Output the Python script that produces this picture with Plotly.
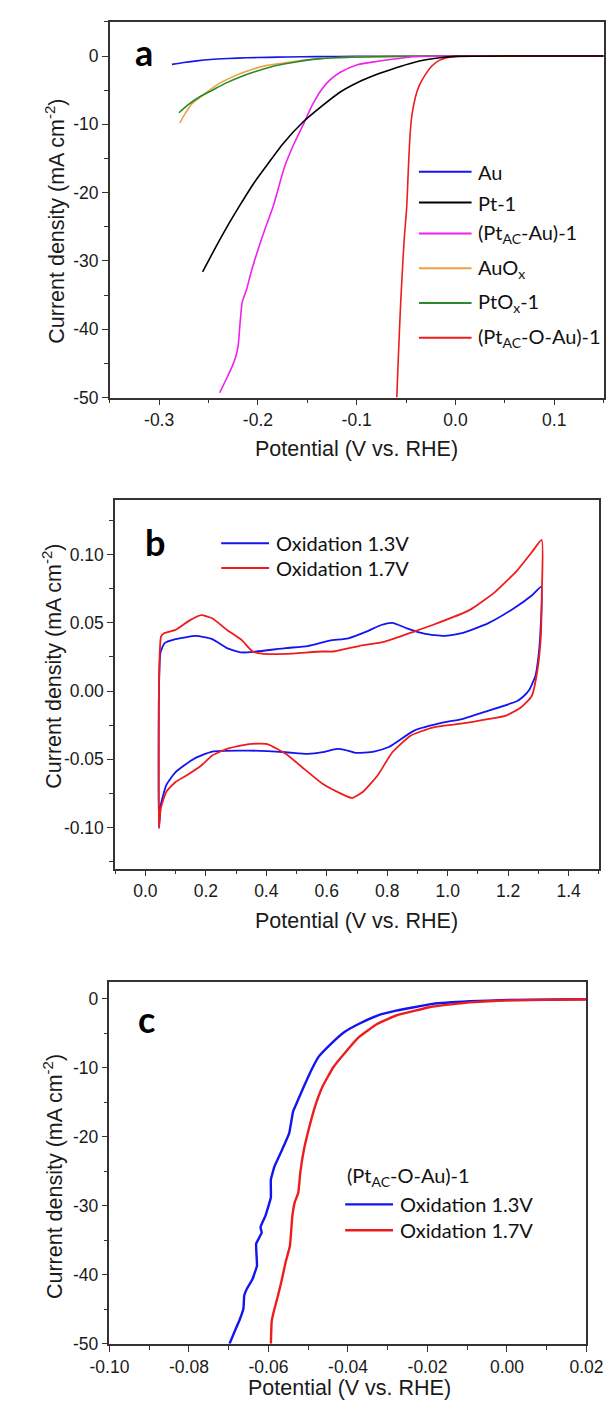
import plotly.graph_objects as go

W, H = 614, 1405

# ---------------- Panel a data (LSV) ----------------
au_x = [-0.287, -0.275, -0.262, -0.248, -0.23, -0.211, -0.19, -0.17, -0.14, -0.10, -0.05, 0.0, 0.15]
au_y = [-1.22, -0.95, -0.7, -0.5, -0.36, -0.26, -0.19, -0.14, -0.09, -0.05, -0.02, 0, 0]

pt1_x = [-0.256, -0.245, -0.232, -0.218, -0.205, -0.192, -0.175, -0.1546, -0.135, -0.117, -0.098,
         -0.080, -0.06, -0.043, -0.03, -0.016, 0.0, 0.15]
pt1_y = [-31.6, -28.6, -25.2, -21.8, -18.8, -16.2, -12.9, -9.7, -7.3, -5.3, -3.8,
         -2.7, -1.7, -0.97, -0.55, -0.25, -0.05, 0]

ptau_x = [-0.2387, -0.236, -0.231, -0.2256, -0.222, -0.220, -0.218, -0.216, -0.2135, -0.2115, -0.207,
          -0.200, -0.192, -0.1845, -0.173, -0.163, -0.153, -0.145, -0.136, -0.127, -0.117, -0.10,
          -0.08, -0.06, -0.043, -0.02, 0.0, 0.15]
ptau_y = [-49.3, -48.5, -47.0, -45.3, -43.8, -42.4, -39.0, -36.1, -35.0, -34.2, -31.7,
          -28.4, -25.0, -22.0, -16.2, -12.7, -9.7, -7.2, -5.0, -3.5, -2.4, -1.3,
          -0.8, -0.4, -0.1, -0.02, 0, 0]

auox_x = [-0.279, -0.274, -0.267, -0.2555, -0.2406, -0.2256, -0.2107, -0.192, -0.17, -0.1546, -0.136,
          -0.0986, -0.061, -0.03, 0.0, 0.15]
auox_y = [-9.8, -8.5, -7.0, -5.7, -4.15, -3.05, -2.2, -1.4, -0.95, -0.62, -0.35,
          -0.14, -0.05, -0.01, 0, 0]

ptox_x = [-0.28, -0.2705, -0.2592, -0.248, -0.2331, -0.218, -0.2032, -0.1845, -0.163, -0.136,
          -0.0986, -0.061, -0.03, 0.0, 0.15]
ptox_y = [-8.3, -7.1, -6.0, -5.15, -4.0, -3.05, -2.3, -1.5, -0.9, -0.38,
          -0.15, -0.05, -0.01, 0, 0]

ptoau_x = [-0.0594, -0.0575, -0.0556, -0.0538, -0.0519, -0.0493, -0.0478, -0.0463, -0.0444, -0.0407,
           -0.0369, -0.0313, -0.0239, -0.0164, -0.0089, -0.0014, 0.01, 0.15]
ptoau_y = [-50, -43.0, -36.6, -31.6, -26.9, -22.0, -17.0, -12.4, -9.0, -6.1,
           -4.4, -2.9, -1.45, -0.63, -0.25, -0.1, 0, 0]

# ---------------- Panel b data (CV) ----------------
cv13_x = [0.045, 0.045, 0.050, 0.063, 0.10, 0.167, 0.221, 0.27, 0.318, 0.367, 0.464, 0.537, 0.61,
          0.671, 0.731, 0.78, 0.817, 0.865, 0.926, 0.987, 1.047, 1.133, 1.218, 1.278, 1.309,
          1.307, 1.300, 1.29, 1.27, 1.25, 1.23, 1.133, 1.047, 0.987, 0.889, 0.805, 0.756, 0.695,
          0.659, 0.634, 0.586, 0.537, 0.464, 0.343, 0.221, 0.16, 0.10, 0.069, 0.051, 0.045]
cv13_y = [-0.100, 0.0, 0.028, 0.035, 0.038, 0.0404, 0.038, 0.0315, 0.0283, 0.029, 0.0315, 0.033, 0.037,
          0.0387, 0.0436, 0.0484, 0.050, 0.046, 0.0419, 0.0404, 0.0424, 0.0496, 0.0605, 0.070, 0.0763,
          0.045, 0.025, 0.011, 0.001, -0.004, -0.0073, -0.0145, -0.0206, -0.023, -0.029, -0.041, -0.0443,
          -0.0453, -0.043, -0.0424, -0.0448, -0.046, -0.0448, -0.0436, -0.0443, -0.0497, -0.0594, -0.069,
          -0.0834, -0.100]

cv17_x = [0.045, 0.045, 0.048, 0.052, 0.063, 0.10, 0.148, 0.185, 0.221, 0.27, 0.318, 0.355, 0.391,
          0.464, 0.586, 0.62, 0.647, 0.707, 0.792, 0.889, 0.950, 1.072, 1.157, 1.23, 1.278, 1.311,
          1.311, 1.308, 1.297, 1.278, 1.242, 1.193, 1.133, 1.072, 0.95, 0.877, 0.817, 0.768, 0.719,
          0.683, 0.647, 0.586, 0.525, 0.464, 0.403, 0.343, 0.27, 0.221, 0.185, 0.136, 0.10, 0.069,
          0.051, 0.045]
cv17_y = [-0.1006, 0.001, 0.03, 0.040, 0.0425, 0.0448, 0.052, 0.0557, 0.0533, 0.0448, 0.0375, 0.029,
          0.0273, 0.0273, 0.029, 0.029, 0.0302, 0.033, 0.0363, 0.0436, 0.0484, 0.0593, 0.0727, 0.0884,
          0.1017, 0.1107, 0.07, 0.04, 0.0157, -0.0036, -0.012, -0.018, -0.0206, -0.023, -0.0267, -0.0327,
          -0.0448, -0.0618, -0.0739, -0.0783, -0.0751, -0.0679, -0.057, -0.046, -0.0388, -0.0388, -0.0424,
          -0.0472, -0.0545, -0.0618, -0.0666, -0.0739, -0.086, -0.1006]

# ---------------- Panel c data (LSV) ----------------
c13_x = [-0.0698, -0.0682, -0.0673, -0.0663, -0.0661, -0.0654, -0.064, -0.0629, -0.0631, -0.0617,
         -0.062, -0.0608, -0.0594, -0.0594, -0.0594, -0.0585, -0.0566, -0.0548, -0.0538, -0.0529,
         -0.0511, -0.0492, -0.0474, -0.0446, -0.0409, -0.0372, -0.0326, -0.0279, -0.0187, -0.0094,
         0.0, 0.02]
c13_y = [-50, -47.8, -46.6, -44.9, -43.0, -42.0, -40.6, -38.7, -35.5, -33.9, -33.1, -31.5, -28.8,
         -27.6, -26.2, -24.3, -21.9, -19.5, -16.3, -15.1, -12.7, -10.3, -8.4, -6.7, -4.8, -3.6,
         -2.4, -1.7, -0.72, -0.34, -0.15, -0.05]

c17_x = [-0.0594, -0.0592, -0.0587, -0.0576, -0.0566, -0.0557, -0.0546, -0.054, -0.0534, -0.0525,
         -0.052, -0.0511, -0.0497, -0.0483, -0.0464, -0.0437, -0.0409, -0.0372, -0.0326, -0.0279,
         -0.0187, -0.0094, 0.0, 0.02]
c17_y = [-50, -46.8, -45.4, -43.0, -40.6, -38.2, -35.8, -31.5, -29.5, -28.1, -25.2, -21.9, -18.5,
         -15.6, -12.7, -9.9, -7.9, -5.5, -3.6, -2.4, -1.1, -0.5, -0.2, -0.05]

# ---------------- tick values / labels ----------------
a_xticks = [-0.3, -0.2, -0.1, 0.0, 0.1]
a_xlabels = ["-0.3", "-0.2", "-0.1", "0.0", "0.1"]
a_yticks = [0, -10, -20, -30, -40, -50]
a_ylabels = ["0", "-10", "-20", "-30", "-40", "-50"]
b_xticks = [0.0, 0.2, 0.4, 0.6, 0.8, 1.0, 1.2, 1.4]
b_xlabels = ["0.0", "0.2", "0.4", "0.6", "0.8", "1.0", "1.2", "1.4"]
b_yticks = [0.10, 0.05, 0.00, -0.05, -0.10]
b_ylabels = ["0.10", "0.05", "0.00", "-0.05", "-0.10"]
c_xticks = [-0.10, -0.08, -0.06, -0.04, -0.02, 0.00, 0.02]
c_xlabels = ["-0.10", "-0.08", "-0.06", "-0.04", "-0.02", "0.00", "0.02"]
c_yticks = [0, -10, -20, -30, -40, -50]
c_ylabels = ["0", "-10", "-20", "-30", "-40", "-50"]

# labels
a_names = ["Au", "Pt-1", "(Pt<sub>AC</sub>-Au)-1", "AuO<sub>x</sub>", "PtO<sub>x</sub>-1",
           "(Pt<sub>AC</sub>-O-Au)-1"]
b_names = ["Oxidation 1.3V", "Oxidation 1.7V"]
c_title = "(Pt<sub>AC</sub>-O-Au)-1"
ytitle = "Current density (mA cm<sup>-2</sup>)"
xtitle = "Potential (V vs. RHE)"

BLUE, RED, MAG, ORA, GRN, BLK = "#1414f0", "#ee1c1c", "#f020f0", "#f0a040", "#2a8a2a", "#000000"


def px(x):
    return x / W


def py(y):
    return 1 - y / H


fig = go.Figure()

a_series = [
    (au_x, au_y, BLUE), (auox_x, auox_y, ORA), (ptox_x, ptox_y, GRN),
    (ptau_x, ptau_y, MAG), (ptoau_x, ptoau_y, RED), (pt1_x, pt1_y, BLK),
]
for xs, ys, col in a_series:
    fig.add_trace(go.Scatter(x=xs, y=ys, mode="lines",
                             line=dict(color=col, width=1.6, shape="spline", smoothing=0.6),
                             xaxis="x", yaxis="y", showlegend=False, hoverinfo="skip"))

fig.add_trace(go.Scatter(x=cv13_x, y=cv13_y, mode="lines",
                         line=dict(color=BLUE, width=1.8, shape="spline", smoothing=0.5),
                         xaxis="x2", yaxis="y2", showlegend=False, hoverinfo="skip"))
fig.add_trace(go.Scatter(x=cv17_x, y=cv17_y, mode="lines",
                         line=dict(color=RED, width=1.8, shape="spline", smoothing=0.5),
                         xaxis="x2", yaxis="y2", showlegend=False, hoverinfo="skip"))

fig.add_trace(go.Scatter(x=c13_x, y=c13_y, mode="lines",
                         line=dict(color=BLUE, width=2.4, shape="spline", smoothing=0.3),
                         xaxis="x3", yaxis="y3", showlegend=False, hoverinfo="skip"))
fig.add_trace(go.Scatter(x=c17_x, y=c17_y, mode="lines",
                         line=dict(color=RED, width=2.4, shape="spline", smoothing=0.3),
                         xaxis="x3", yaxis="y3", showlegend=False, hoverinfo="skip"))

TICKFONT = dict(family="Liberation Sans, Arial", size=17.5, color="#1a1a1a")
AXC = "#333"


def axis(domain, rng, tickvals, ticktext, minor_dtick, anchor):
    return dict(domain=domain, range=rng, tickmode="array", tickvals=tickvals, ticktext=ticktext,
                anchor=anchor, showline=True, linecolor=AXC, linewidth=1.6, mirror=True,
                showgrid=False, zeroline=False,
                ticks="outside", ticklen=6, tickwidth=1.4, tickcolor=AXC, tickfont=TICKFONT,
                minor=dict(ticks="outside", ticklen=4, tickwidth=1.2, tickcolor=AXC, dtick=minor_dtick,
                           tick0=0, showgrid=False))


fig.update_layout(
    width=W, height=H, margin=dict(l=0, r=0, t=0, b=0),
    paper_bgcolor="white", plot_bgcolor="white", showlegend=False,
    xaxis=axis([px(87), px(612.5)], [-0.35, 0.15], a_xticks, a_xlabels, 0.05, "y"),
    yaxis=axis([py(392.3), py(14)], [-50, 5], a_yticks, a_ylabels, 5, "x"),
    xaxis2=axis([px(92.7), px(607.5)], [-0.1, 1.5], b_xticks, b_xlabels, 0.1, "y2"),
    yaxis2=axis([py(866.7), py(495.5)], [-0.13, 0.14], b_yticks, b_ylabels, 0.025, "x2"),
    xaxis3=axis([px(86.7), px(594.3)], [-0.1, 0.02], c_xticks, c_xlabels, 0.01, "y3"),
    yaxis3=axis([py(1345.3), py(980.7)], [-50, 2.5], c_yticks, c_ylabels, 5, "x3"),
)

ann = []
TF = dict(family="Liberation Sans, Arial", size=21.5, color="#1a1a1a")
for (xc, yc) in [(29, 215), (26, 663), (26, 1177)]:
    ann.append(dict(x=px(xc), y=py(yc), xref="paper", yref="paper", text=ytitle, textangle=-90,
                    showarrow=False, font=TF, xanchor="center", yanchor="middle"))
for (xc, yc) in [(350, 444), (350, 920), (342, 1390)]:
    ann.append(dict(x=px(xc), y=py(yc), xref="paper", yref="paper", text=xtitle,
                    showarrow=False, font=TF, xanchor="center", yanchor="middle"))

LF = dict(family="Lato, Open Sans", size=36, color="#000")
for (t, xc, yc) in [("a", 123, 44), ("b", 135, 538), ("c", 126, 1018)]:
    ann.append(dict(x=px(xc), y=py(yc), xref="paper", yref="paper", text="<b>%s</b>" % t,
                    showarrow=False, font=LF, xanchor="center", yanchor="middle"))

shapes = []
GF = dict(family="Lato, Open Sans", size=20, color="#111")
a_cols = [BLUE, BLK, MAG, ORA, GRN, RED]
a_rows = [165, 196, 227, 262, 297, 332]
for name, col, yr in zip(a_names, a_cols, a_rows):
    shapes.append(dict(type="line", xref="paper", yref="paper", x0=px(416), x1=px(472), y0=py(yr), y1=py(yr),
                       line=dict(color=col, width=2)))
    ann.append(dict(x=px(477), y=py(yr), xref="paper", yref="paper", text=name, showarrow=False,
                    font=GF, xanchor="left", yanchor="middle"))
for name, col, yr in zip(b_names, [BLUE, RED], [539, 564]):
    shapes.append(dict(type="line", xref="paper", yref="paper", x0=px(205.6), x1=px(256.5), y0=py(yr), y1=py(yr),
                       line=dict(color=col, width=2)))
    ann.append(dict(x=px(262), y=py(yr), xref="paper", yref="paper", text=name, showarrow=False,
                    font=GF, xanchor="left", yanchor="middle"))
ann.append(dict(x=px(337), y=py(1177), xref="paper", yref="paper", text=c_title, showarrow=False,
                font=GF, xanchor="left", yanchor="middle"))
for name, col, yr in zip(b_names, [BLUE, RED], [1205, 1231]):
    shapes.append(dict(type="line", xref="paper", yref="paper", x0=px(337.5), x1=px(388.4), y0=py(yr), y1=py(yr),
                       line=dict(color=col, width=2.4)))
    ann.append(dict(x=px(393.5), y=py(yr), xref="paper", yref="paper", text=name, showarrow=False,
                    font=GF, xanchor="left", yanchor="middle"))

fig.update_layout(annotations=ann, shapes=shapes)
fig.write_html("out.html")
